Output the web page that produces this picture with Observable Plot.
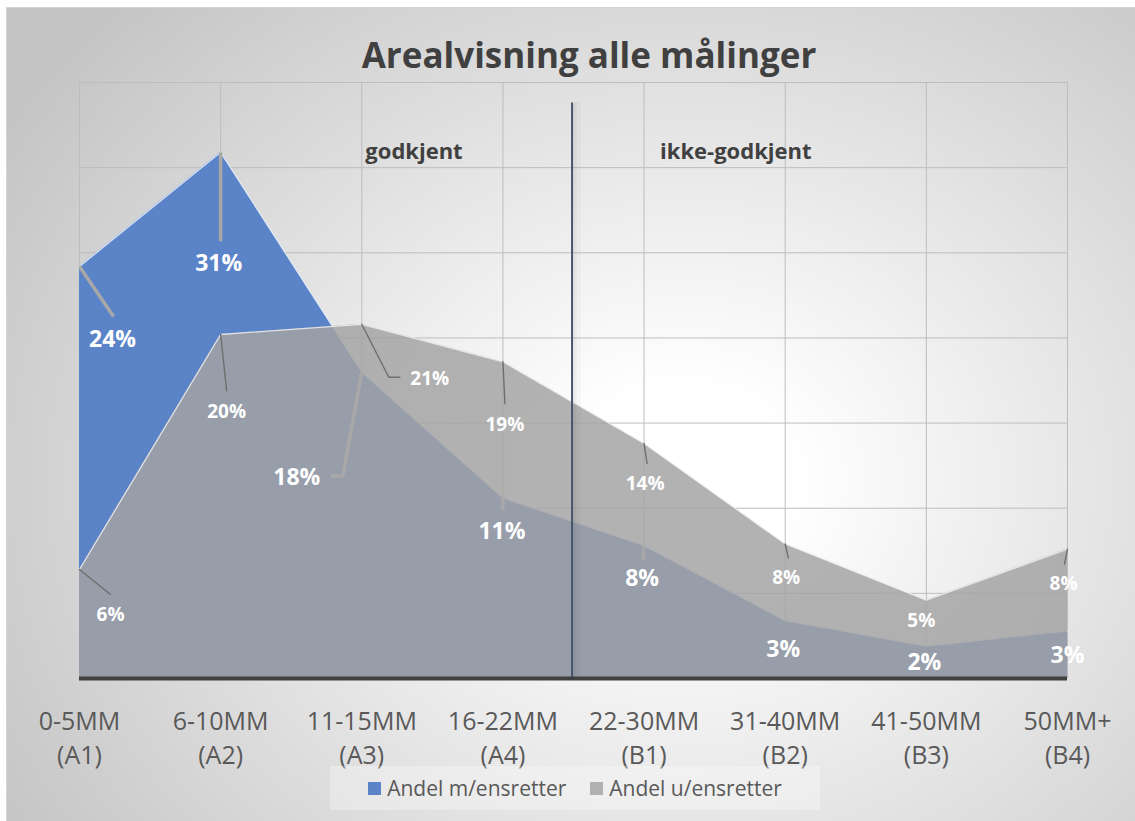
<!DOCTYPE html>
<html>
<head>
<meta charset="utf-8">
<script src="https://cdn.jsdelivr.net/npm/d3@7"></script>
<script src="https://cdn.jsdelivr.net/npm/@observablehq/plot@0.6"></script>
<style>
  html, body { margin: 0; padding: 0; background: #ffffff; }
  #page { position: relative; width: 1135px; height: 821px; overflow: hidden; font-family: "Open Sans", sans-serif; }
  #frame { position: absolute; left: 6px; top: 7px; width: 1129px; height: 814px;
    border-left: 1px solid #d4d4d4; border-top: 1px solid #d4d4d4;
    background: radial-gradient(ellipse 70% 82% at 60% 58%, #ffffff 0%, #ffffff 14%, #c5c5c5 100%); }
  #title { position: absolute; left: 289px; width: 600px; top: 37px; text-align: center;
    font-size: 35px; line-height: 35px; font-weight: 700; color: #404040; white-space: nowrap; }
  #chart { position: absolute; left: 0; top: 70px; }
  #legend { position: absolute; left: 330px; top: 766px; width: 490px; height: 44px;
    background: rgba(255,255,255,0.3); display: flex; align-items: center; justify-content: center;
    font-size: 21px; color: #595959; white-space: nowrap; }
  .item { display: flex; align-items: center; margin: 0 12px; }
  .swatch { width: 13px; height: 13px; margin-right: 6px; }
</style>
</head>
<body>
<div id="page">
  <div id="frame"></div>
  <div id="title"></div>
  <div id="chart"></div>
  <div id="legend"></div>
</div>
<script>
// ---------- data ----------
const categories = ["0-5MM", "6-10MM", "11-15MM", "16-22MM", "22-30MM", "31-40MM", "41-50MM", "50MM+"];
const codes = ["A1", "A2", "A3", "A4", "B1", "B2", "B3", "B4"];
const seriesNames = ["Andel m/ensretter", "Andel u/ensretter"];
const withRectifier = [24.2, 30.9, 18.0, 10.6, 7.8, 3.4, 1.9, 2.8];     // % (blue)
const withoutRectifier = [6.4, 20.2, 20.8, 18.6, 13.8, 7.9, 4.6, 7.6];  // % (gray)
const yTicks = [0, 5, 10, 15, 20, 25, 30, 35];
const titleText = "Arealvisning alle målinger";
const zoneLabels = ["godkjent", "ikke-godkjent"];

// ---------- layout (pixel offsets of data labels and leader lines) ----------
const W = 1135, H = 690;
const M = {top: 12, right: 68, bottom: 82, left: 79};
const xMax = categories.length - 1, yMax = 35;
const kx = (W - M.left - M.right) / xMax;
const ky = (H - M.top - M.bottom) / yMax;
const blueLabelOffset = [[33, 73], [-2, 111], [-65, 106], [-1, 34], [-2, 33], [-2, 29], [-2, 16], [0, 25]];
const grayLabelOffset = [[31, 45], [6, 77], [68, 55], [2, 63], [1, 40], [1, 34], [-5, 21], [-4, 35]];
const blueLeaders = [[[0,0],[34,50]], [[0,0],[0,89]], [[0,0],[-19,104],[-31,104]], [[0,-1],[0,12]], [[0,0],[-1,14]], null, null, null];
const grayLeaders = [[[0,0],[31,25]], [[0,0],[6,56]], [[0,0],[27,53],[38,53]], [[0,0],[2,42]], [[0,0],[3,20]], [[0,0],[3,14]], null, [[0,0],[-3,15]]];

const blueColor = "#5b84c8", grayColor = "#a3a3a3", grayOpacity = 0.84;

// ---------- build tables ----------
const idx = d3.range(categories.length);
const rows = idx.map(i => ({i, blue: withRectifier[i], gray: withoutRectifier[i]}));
const off = (i, v, [dx, dy]) => ({x: i + dx / kx, y: v - dy / ky});

const blueLabels = idx.map(i => ({...off(i, withRectifier[i], blueLabelOffset[i]), text: Math.round(withRectifier[i]) + "%"}));
const grayLabels = idx.map(i => ({...off(i, withoutRectifier[i], grayLabelOffset[i]), text: Math.round(withoutRectifier[i]) + "%"}));
const leaderRows = (vals, leaders, key) => idx.flatMap(i => leaders[i] ? leaders[i].map(p => ({...off(i, vals[i], p), key: key + i})) : []);
const blueLeaderRows = leaderRows(withRectifier, blueLeaders, "b");
const grayLeaderRows = leaderRows(withoutRectifier, grayLeaders, "g");

const zoneRows = [
  {x: 2.37, y: 30.9, text: zoneLabels[0]},
  {x: 4.65, y: 30.9, text: zoneLabels[1]}
];

const chart = Plot.plot({
  width: W, height: H,
  marginTop: M.top, marginRight: M.right, marginBottom: M.bottom, marginLeft: M.left,
  style: {background: "transparent", fontFamily: "Open Sans, sans-serif", overflow: "visible"},
  x: {type: "linear", domain: [0, xMax]},
  y: {domain: [0, yMax]},
  marks: [
    Plot.gridY(yTicks, {stroke: "#bdbdbd", strokeOpacity: 1, strokeWidth: 1}),
    Plot.gridX(idx, {stroke: "#bdbdbd", strokeOpacity: 1, strokeWidth: 1}),
    Plot.areaY(rows, {x: "i", y: "blue", fill: blueColor, curve: "linear"}),
    Plot.lineY(rows, {x: "i", y: "blue", stroke: "#e6ecf7", strokeWidth: 1.3, strokeOpacity: 0.9}),
    Plot.areaY(rows, {x: "i", y: "gray", fill: grayColor, fillOpacity: grayOpacity, curve: "linear"}),
    Plot.lineY(rows, {x: "i", y: "gray", stroke: "#f2f2f2", strokeWidth: 1.3, strokeOpacity: 0.8}),
    // separator between approved / not approved (with faint shadow)
    Plot.ruleX([3.49], {y1: 0, y2: 33.8, stroke: "#000000", strokeOpacity: 0.025, strokeWidth: 8, dx: 5}),
    Plot.ruleX([3.49], {y1: 0, y2: 33.8, stroke: "#000000", strokeOpacity: 0.03, strokeWidth: 3, dx: 3}),
    Plot.ruleX([3.49], {y1: 0, y2: 33.8, stroke: "#44546a", strokeWidth: 2}),
    // axis line
    Plot.ruleY([0], {stroke: "#404040", strokeWidth: 4}),
    Plot.axisX({ticks: idx, tickFormat: i => categories[i] + "\n(" + codes[i] + ")",
      tickSize: 0, tickPadding: 27, fontSize: 25, lineHeight: 1.36, fill: "#595959", label: null}),
    Plot.axisY({ticks: [], label: null, tickSize: 0}),
    // leader lines
    Plot.line(blueLeaderRows, {x: "x", y: "y", z: "key", stroke: "#a8a8a8", strokeWidth: 3.5, strokeLinecap: "butt"}),
    Plot.line(grayLeaderRows, {x: "x", y: "y", z: "key", stroke: "#6e6e6e", strokeWidth: 1.4}),
    // data labels
    Plot.text(blueLabels, {x: "x", y: "y", text: "text", fill: "white", fontWeight: "bold", fontSize: 23}),
    Plot.text(grayLabels, {x: "x", y: "y", text: "text", fill: "white", fontWeight: "bold", fontSize: 19}),
    // zone annotations
    Plot.text(zoneRows, {x: "x", y: "y", text: "text", fill: "#404040", fontWeight: "bold", fontSize: 22})
  ]
});
document.getElementById("chart").appendChild(chart);
document.getElementById("title").textContent = titleText;

const legend = document.getElementById("legend");
[[seriesNames[0], blueColor, 1], [seriesNames[1], grayColor, grayOpacity]].forEach(([name, color, op]) => {
  const item = document.createElement("div");
  item.className = "item";
  const sw = document.createElement("div");
  sw.className = "swatch";
  sw.style.background = color;
  sw.style.opacity = op;
  const t = document.createElement("span");
  t.textContent = name;
  item.appendChild(sw); item.appendChild(t);
  legend.appendChild(item);
});
</script>
</body>
</html>
